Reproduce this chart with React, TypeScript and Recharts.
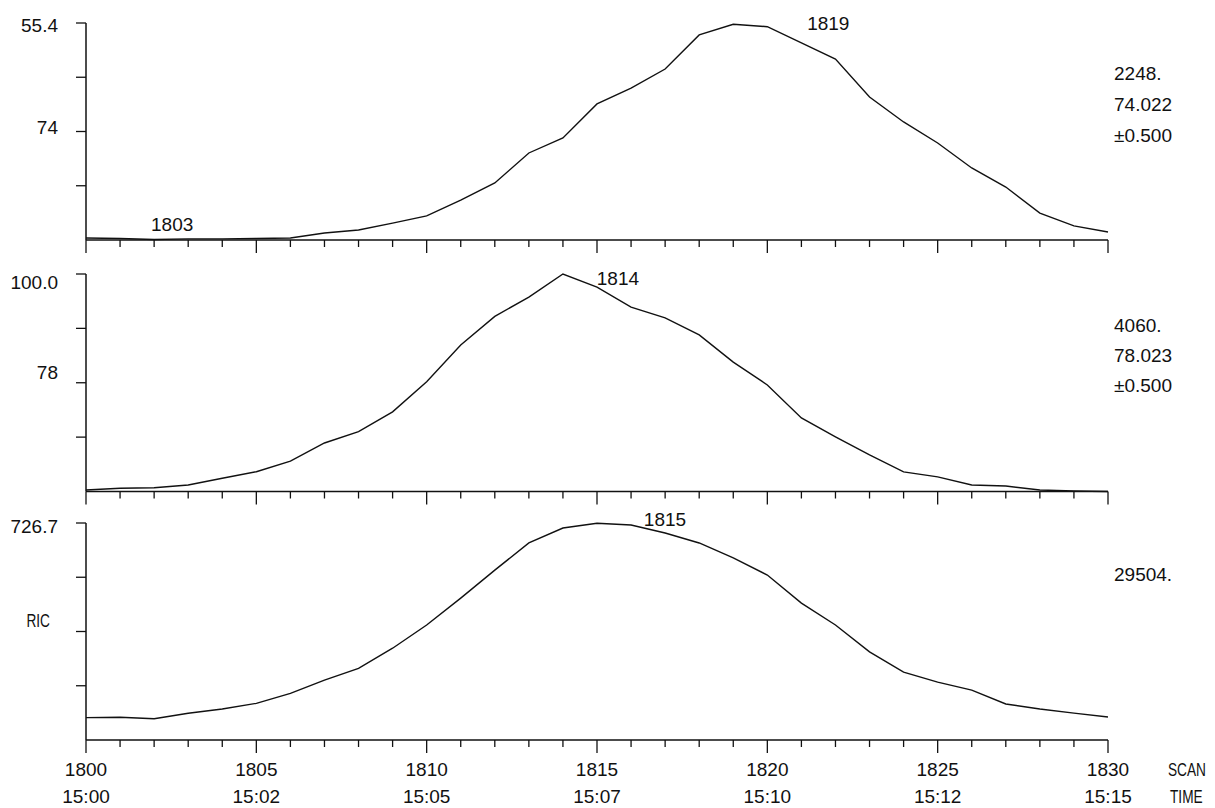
import { LabelList, Line, LineChart, XAxis, YAxis } from "recharts";

const scans = [
  1800, 1801, 1802, 1803, 1804, 1805, 1806, 1807, 1808, 1809, 1810, 1811, 1812, 1813, 1814, 1815,
  1816, 1817, 1818, 1819, 1820, 1821, 1822, 1823, 1824, 1825, 1826, 1827, 1828, 1829, 1830,
];

// relative intensity, % of each trace's full scale
const mass74 = [
  0.9, 0.7, 0.2, 0.5, 0.5, 0.7, 0.9, 3.2, 4.6, 7.8, 11.1, 18.4, 26.3, 40.1, 47.0, 62.7, 70.0, 78.8,
  94.5, 99.4, 98.3, 90.8, 83.4, 65.9, 54.4, 44.7, 33.2, 24.4, 12.4, 6.5, 3.7,
];
const mass78 = [
  0.7, 1.5, 1.7, 3.0, 6.1, 9.1, 14.0, 22.3, 27.5, 36.6, 50.5, 67.4, 80.5, 89.4, 100, 94.0, 84.8, 79.8,
  72.0, 59.5, 49.0, 33.8, 25.1, 16.8, 9.0, 6.7, 3.0, 2.5, 0.7, 0.2, 0,
];
const ric = [
  10.3, 10.5, 9.8, 12.3, 14.3, 16.9, 21.5, 27.6, 33.0, 42.3, 53.0, 65.4, 78.3, 90.8, 97.7, 99.9, 99.1,
  95.4, 90.8, 83.9, 76.0, 63.1, 53.0, 40.6, 31.3, 26.7, 23.0, 16.6, 14.3, 12.4, 10.6,
];

const scanLabels = [1800, 1805, 1810, 1815, 1820, 1825, 1830];
const timeLabels = ["15:00", "15:02", "15:05", "15:07", "15:10", "15:12", "15:15"];
const levelTicks = [25, 50, 75, 100];

const fullScales = ["55.4", "100.0", "726.7"];
const traceNames = ["74", "78", "RIC"];
const peakScans = [[1819, 1803], [1814], [1815]];
const traceStats = [["2248.", "74.022", "±0.500"], ["4060.", "78.023", "±0.500"], ["29504."]];

const FONT = "'Liberation Sans', Arial, sans-serif";
const INK = "#111";

// layout of each panel (pixel placement only)
const panelLayout = [
  { top: 0, height: 260, marginTop: 23, marginBottom: 6, axisHeight: 14, fullDy: 9, nameDy: 2.5, statsY: [79.5, 110.5, 141.5] },
  { top: 255, height: 260, marginTop: 19, marginBottom: 9.5, axisHeight: 14, fullDy: 15, nameDy: -4, statsY: [331.5, 362, 392] },
  { top: 500, height: 308, marginTop: 23, marginBottom: 8, axisHeight: 60, fullDy: 10, nameDy: -4.5, statsY: [581] },
];
const peakOffsets: Record<number, { dx: number; dy: number }> = {
  1819: { dx: 95, dy: 6 },
  1803: { dx: -16, dy: -7.5 },
  1814: { dx: 55, dy: 11 },
  1815: { dx: 68, dy: 3 },
};

const series = [mass74, mass78, ric];

// condensed caption text (the plotter's letters are narrower than its digits)
function Narrow({ x, y, anchor, children }: { x: number; y: number; anchor?: string; children: string }) {
  return (
    <text
      transform={`translate(${x},${y}) scale(0.72,1)`}
      textAnchor={anchor ?? "start"}
      fontFamily={FONT}
      fontSize={19}
      fill={INK}
    >
      {children}
    </text>
  );
}

function ScanTick(props: any) {
  const { x, y, payload, showLabels } = props;
  const value = payload.value as number;
  const labelIdx = scanLabels.indexOf(value);
  const major = labelIdx >= 0;
  return (
    <g>
      <line x1={x} x2={x} y1={y} y2={y + (major ? 13 : 7)} stroke={INK} strokeWidth={1.3} />
      {showLabels && major && (
        <g fontFamily={FONT} fontSize={19} fill={INK}>
          <text x={x} y={y + 36} textAnchor="middle">{value}</text>
          <text x={x} y={y + 63} textAnchor="middle">{timeLabels[labelIdx]}</text>
          {value === 1830 && (
            <>
              <Narrow x={x + 60} y={y + 36}>SCAN</Narrow>
              <Narrow x={x + 62} y={y + 63}>TIME</Narrow>
            </>
          )}
        </g>
      )}
    </g>
  );
}

function LevelTick(props: any) {
  const { x, y, payload, panel } = props;
  const layout = panelLayout[panel];
  const name = traceNames[panel];
  return (
    <g>
      <line x1={x - 10} x2={x} y1={y} y2={y} stroke={INK} strokeWidth={1.3} />
      <g fontFamily={FONT} fontSize={19} fill={INK} textAnchor="end">
        {payload.value === 100 && <text x={x - 28} y={y + layout.fullDy}>{fullScales[panel]}</text>}
        {payload.value === 50 &&
          (name === "RIC" ? (
            <Narrow x={x - 36} y={y + layout.nameDy} anchor="end">{name}</Narrow>
          ) : (
            <text x={x - 28} y={y + layout.nameDy}>{name}</text>
          ))}
      </g>
    </g>
  );
}

function Panel({ index }: { index: number }) {
  const layout = panelLayout[index];
  const data = scans.map((scan, i) => ({ scan, v: series[index][i] }));
  const peaks = peakScans[index];
  const last = index === 2;
  return (
    <div style={{ position: "absolute", left: 0, top: layout.top }}>
      <LineChart
        width={1215}
        height={layout.height}
        data={data}
        margin={{ top: layout.marginTop, right: 107, bottom: layout.marginBottom, left: 0 }}
      >
        <XAxis
          dataKey="scan"
          type="number"
          domain={[1800, 1830]}
          ticks={scans}
          interval={0}
          height={layout.axisHeight}
          tickSize={0}
          tickMargin={0}
          tickLine={false}
          axisLine={{ stroke: INK, strokeWidth: 1.5 }}
          tick={(p: any) => <ScanTick {...p} showLabels={last} />}
        />
        <YAxis
          type="number"
          domain={[0, 100]}
          ticks={levelTicks}
          interval={0}
          width={86}
          tickSize={0}
          tickMargin={0}
          tickLine={false}
          axisLine={{ stroke: INK, strokeWidth: 1.5 }}
          tick={(p: any) => <LevelTick {...p} panel={index} />}
        />
        <Line
          type="linear"
          dataKey="v"
          stroke={INK}
          strokeWidth={1.4}
          dot={false}
          isAnimationActive={false}
        >
          <LabelList
            dataKey="v"
            content={(p: any) => {
              const scan = data[p.index]?.scan;
              if (!peaks.includes(scan)) return null;
              const off = peakOffsets[scan];
              return (
                <text
                  x={p.x + off.dx}
                  y={p.y + off.dy}
                  textAnchor="middle"
                  fontFamily={FONT}
                  fontSize={19}
                  fill={INK}
                >
                  {scan}
                </text>
              );
            }}
          />
        </Line>
      </LineChart>
      <svg
        width={1215}
        height={layout.height}
        style={{ position: "absolute", left: 0, top: 0, pointerEvents: "none" }}
      >
        {traceStats[index].map((s, i) => (
          <text key={s + i} x={1114} y={layout.statsY[i] - layout.top} fontFamily={FONT} fontSize={19} fill={INK}>
            {s}
          </text>
        ))}
      </svg>
    </div>
  );
}

export default function App() {
  return (
    <div style={{ position: "absolute", left: 0, top: 0, width: 1215, height: 808, background: "#fff" }}>
      <Panel index={0} />
      <Panel index={1} />
      <Panel index={2} />
    </div>
  );
}
